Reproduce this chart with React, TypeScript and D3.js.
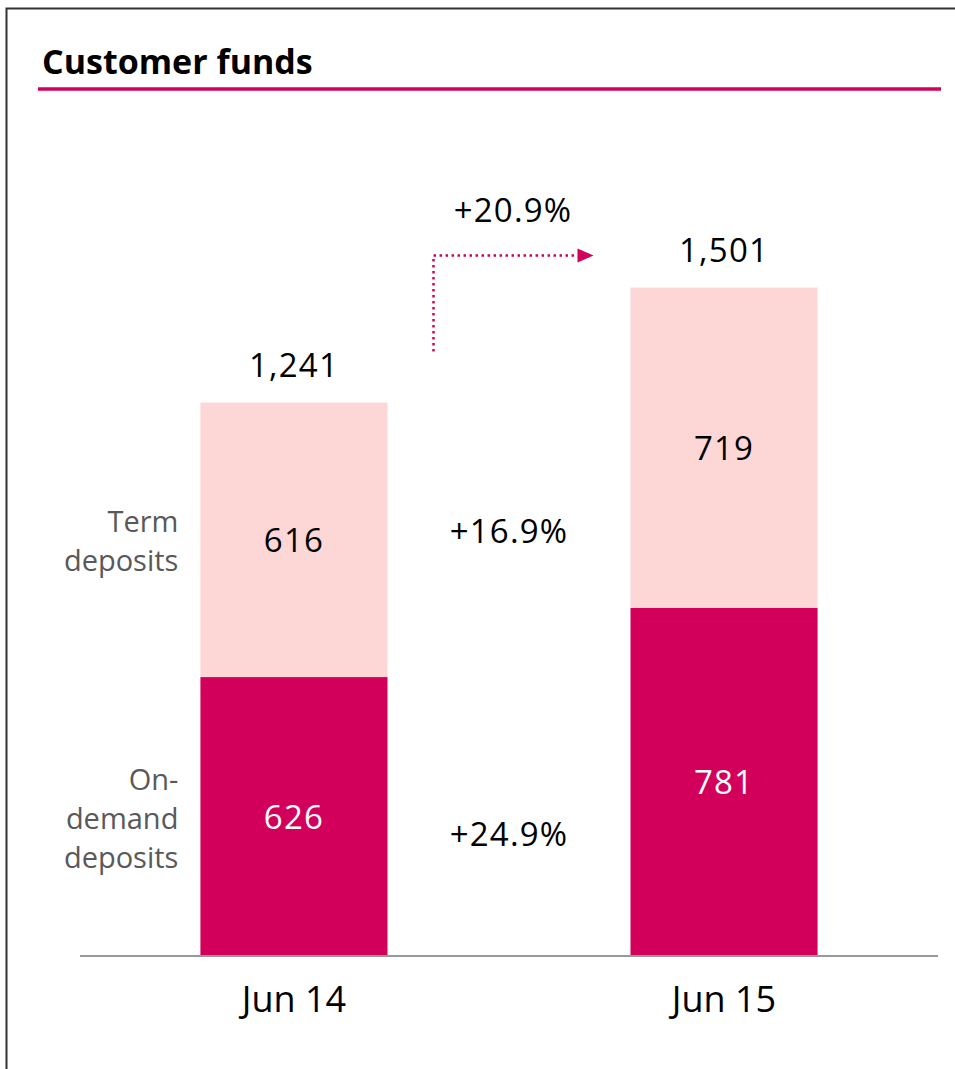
import React from "react";
import * as d3 from "d3";

const categories = ["Jun 14", "Jun 15"];
const onDemand = [626, 781];
const term = [616, 719];
const totals = ["1,241", "1,501"];
const seriesNames = [["Term", "deposits"], ["On-", "demand", "deposits"]];
const growthLabels = ["+16.9%", "+24.9%"];
const totalGrowth = "+20.9%";
const title = "Customer funds";

const W = 955;
const H = 1069;
const FONT = "'Open Sans', 'Noto Sans', sans-serif";
const MAGENTA = "#D2005B";
const PINK = "#FDD6D6";

export default function App() {
  const x = d3.scaleBand<string>().domain(categories).range([80, 938]).paddingInner(0.565).paddingOuter(0.28);
  const y = d3.scaleLinear().domain([0, 1000]).range([956, 956 - 445.6]);
  const bw = x.bandwidth();
  const stacks = d3.stack<any>().keys(["onDemand", "term"])(
    categories.map((c, i) => ({ cat: c, onDemand: onDemand[i], term: term[i] }))
  );
  const x0 = x(categories[0])!;
  const x1 = x(categories[1])!;
  const midX = (x0 + bw + x1) / 2;
  const top0 = y(onDemand[0] + term[0]);
  const top1 = y(onDemand[1] + term[1]);
  const arrowX = x0 + bw + 46;
  const arrowY = top1 - 32;
  const arrowEnd = x1 - 53;
  const numStyle = { fontFamily: FONT, fontSize: 33, letterSpacing: 1.2 } as const;

  return (
    <svg width={W} height={H} style={{ position: "absolute", left: 0, top: 0, background: "#fff" }}>
      <rect x={6.5} y={8.5} width={W + 20} height={H + 20} fill="none" stroke="#333" strokeWidth={2} />
      <text x={42} y={74} style={{ fontFamily: FONT, fontSize: 34, fontWeight: 700 }} fill="#000">{title}</text>
      <line x1={38} x2={941} y1={89} y2={89} stroke={MAGENTA} strokeWidth={3.5} />

      {stacks.map((s, si) =>
        s.map((d, i) => (
          <g key={`${si}-${i}`}>
            <rect x={x(categories[i])} y={y(d[1])} width={bw} height={y(d[0]) - y(d[1])} fill={si === 0 ? MAGENTA : PINK} />
            <text x={x(categories[i])! + bw / 2} y={(y(d[0]) + y(d[1])) / 2 + 12} textAnchor="middle" style={numStyle} fill={si === 0 ? "#fff" : "#000"}>
              {si === 0 ? onDemand[i] : term[i]}
            </text>
          </g>
        ))
      )}

      {categories.map((c, i) => (
        <g key={c}>
          <text x={x(c)! + bw / 2} y={y(onDemand[i] + term[i]) - 26} textAnchor="middle" style={numStyle} fill="#000">{totals[i]}</text>
          <text x={x(c)! + bw / 2} y={1012} textAnchor="middle" style={{ fontFamily: FONT, fontSize: 36 }} fill="#000">{c}</text>
        </g>
      ))}

      <line x1={80} x2={938} y1={956} y2={956} stroke="#999" strokeWidth={2} />

      {/* series labels */}
      {seriesNames.map((lines, si) => {
        const center = si === 0 ? (y(onDemand[0]) + y(onDemand[0] + term[0])) / 2 : (y(0) + y(onDemand[0])) / 2;
        const startY = center - ((lines.length - 1) * 39) / 2 + 12;
        return (
          <text key={si} textAnchor="end" style={{ fontFamily: FONT, fontSize: 29 }} fill="#595959">
            {lines.map((l, li) => (
              <tspan key={li} x={x0 - 22} y={startY + li * 39}>{l}</tspan>
            ))}
          </text>
        );
      })}

      {/* growth labels */}
      <text x={midX} y={(y(onDemand[0]) + y(onDemand[0] + term[0])) / 2 + 3} textAnchor="middle" style={numStyle} fill="#000">{growthLabels[0]}</text>
      <text x={midX} y={(y(0) + y(onDemand[0])) / 2 + 29} textAnchor="middle" style={numStyle} fill="#000">{growthLabels[1]}</text>

      {/* total growth arrow */}
      <path d={`M${arrowX},${top0 - 51} V${arrowY} H${arrowEnd}`} fill="none" stroke={MAGENTA} strokeWidth={2.5} strokeDasharray="2.5 3.5" />
      <path d={`M${arrowEnd},${arrowY - 7} L${arrowEnd + 16},${arrowY} L${arrowEnd},${arrowY + 7} Z`} fill={MAGENTA} />
      <text x={midX + 4} y={arrowY - 34} textAnchor="middle" style={numStyle} fill="#000">{totalGrowth}</text>
    </svg>
  );
}
